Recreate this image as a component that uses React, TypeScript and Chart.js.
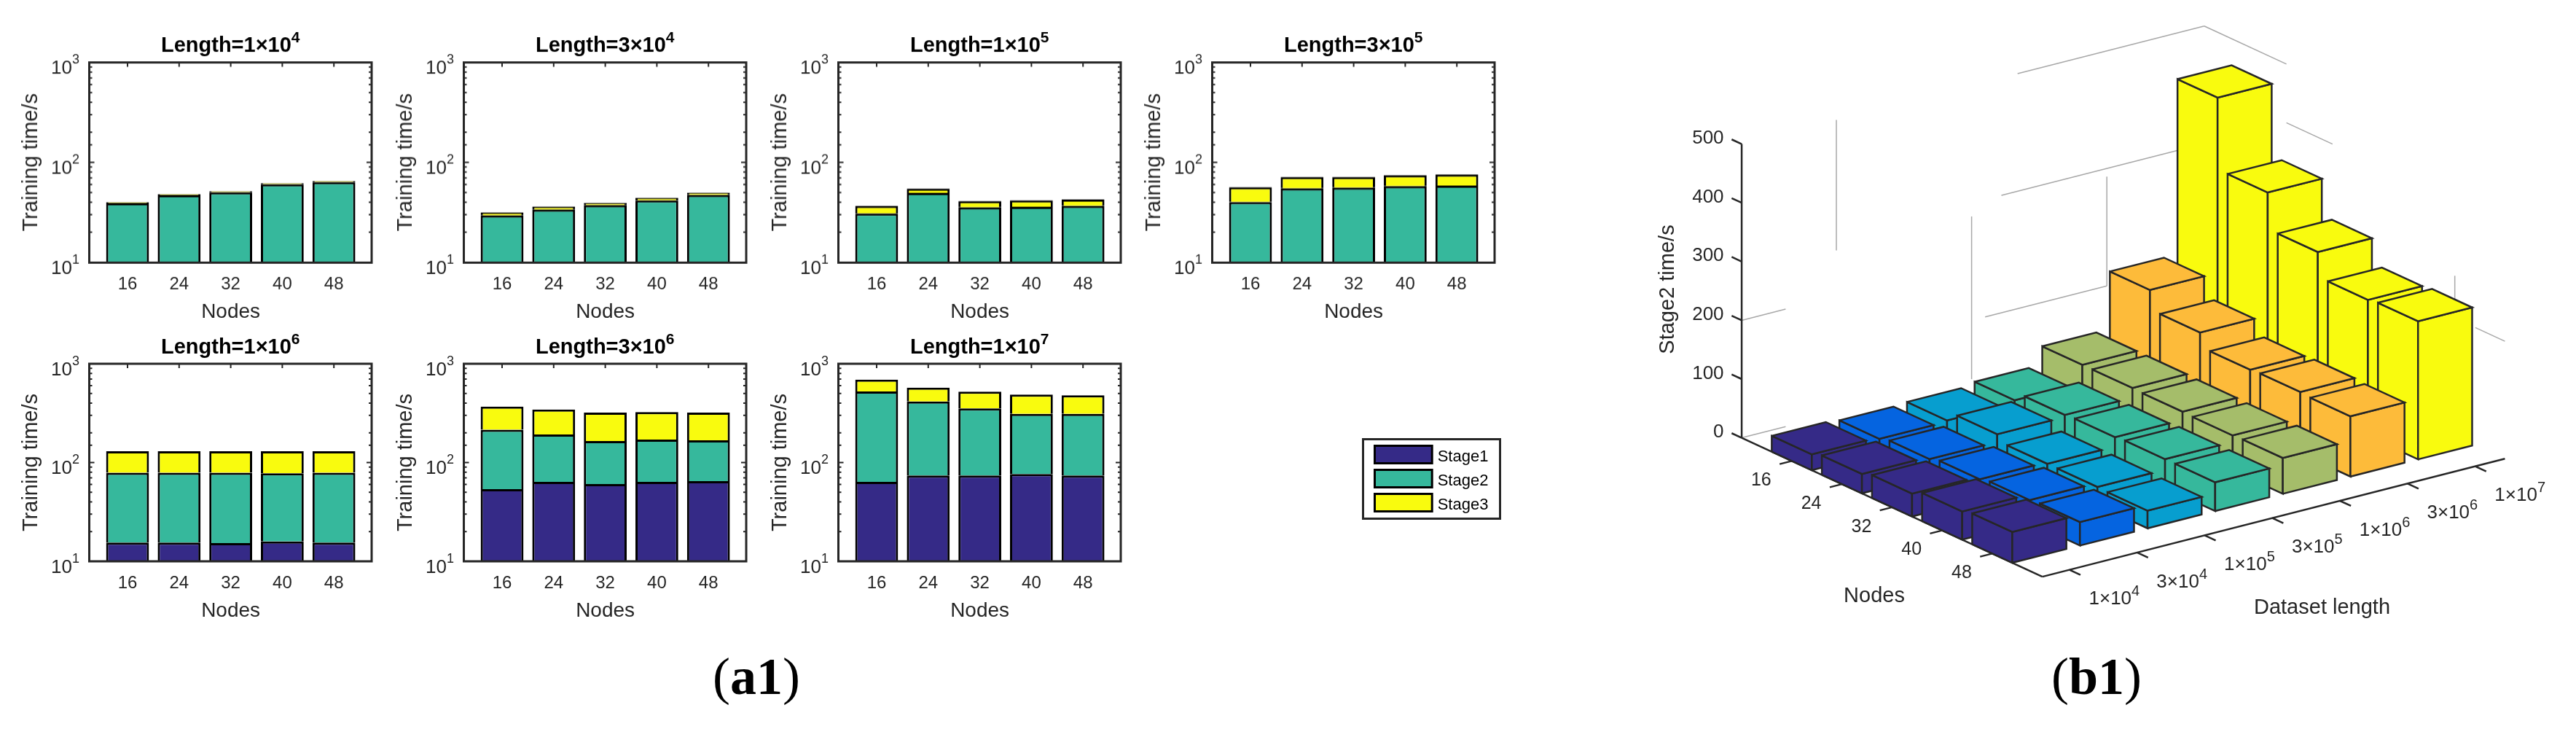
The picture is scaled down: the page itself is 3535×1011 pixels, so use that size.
import React, { useEffect, useRef } from "react";
import { Chart, registerables } from "chart.js";

Chart.register(...registerables);

const nodes = ["16", "24", "32", "40", "48"];
const stageNames = ["Stage1", "Stage2", "Stage3"];
const stageColors = ["#352a87", "#36b89c", "#f9fb0e"];

const lengthMantissas = ["1", "3", "1", "3", "1", "3", "1"];
const lengthExponents = ["4", "4", "5", "5", "6", "6", "7"];

// Training time in seconds per stage; the panels' y axis starts at 10 so small Stage1 runs stay below it.
const s1_1e4 = [9, 9, 9, 9, 9];
const s2_1e4 = [30.1, 38, 41.2, 51.4, 54.5];
const s3_1e4 = [0.8, 1, 1.2, 1.5, 1.5];

const s1_3e4 = [5, 5, 5, 5, 5];
const s2_3e4 = [24.5, 28.8, 32.3, 36.7, 42.3];
const s3_3e4 = [2.0, 2.3, 2.0, 2.5, 2.3];

const s1_1e5 = [5, 5, 5, 5, 5];
const s2_1e5 = [25.8, 44.6, 30.5, 31, 31.7];
const s3_1e5 = [5.9, 5, 5.5, 5.7, 5.8];

const s1_3e5 = [9, 9, 9, 9, 9];
const s2_3e5 = [31.1, 45.9, 46.9, 48.8, 49.7];
const s3_3e5 = [16.4, 16.6, 15.6, 16.6, 16.9];

const s1_1e6 = [15.5, 15.5, 15.3, 15.9, 15.5];
const s2_1e6 = [63.2, 63.2, 63.4, 61.8, 63.2];
const s3_1e6 = [51.4, 51.4, 51.4, 52.4, 51.4];

const s1_3e6 = [53.8, 63.7, 60.6, 63.7, 64.9];
const s2_3e6 = [161.2, 128.3, 104.4, 107.3, 103.1];
const s3_3e6 = [154, 153, 155, 154, 152];

const s1_1e7 = [63.7, 73.9, 73.9, 76.4, 73.9];
const s2_1e7 = [461.3, 341.1, 279.1, 234.6, 237.1];
const s3_1e7 = [167, 159, 169, 176, 168];

const panelStages = [
  [s1_1e4, s2_1e4, s3_1e4],
  [s1_3e4, s2_3e4, s3_3e4],
  [s1_1e5, s2_1e5, s3_1e5],
  [s1_3e5, s2_3e5, s3_3e5],
  [s1_1e6, s2_1e6, s3_1e6],
  [s1_3e6, s2_3e6, s3_3e6],
  [s1_1e7, s2_1e7, s3_1e7],
];

// Stage2 time per node count (rows) and dataset length (columns), for the 3-D panel.
const stage2Nodes16 = [27, 24, 26, 31, 62, 160, 458];
const stage2Nodes24 = [33, 29, 42, 45.5, 62, 127, 336];
const stage2Nodes32 = [39, 34, 31, 47, 61, 103, 274];
const stage2Nodes40 = [48, 38, 31, 49, 60, 104.6, 232];
const stage2Nodes48 = [52.5, 40, 30, 49, 61, 102.6, 235];
const stage2Table = [stage2Nodes16, stage2Nodes24, stage2Nodes32, stage2Nodes40, stage2Nodes48];
const stage2Ticks = [0, 100, 200, 300, 400, 500];
const lengthColors = ["#352a87", "#0564e0", "#079ecf", "#36b89c", "#a5bd6a", "#fdbb3a", "#f9fb0e"];

const INK = "#262626";
const FONT = '"Liberation Sans", Arial, sans-serif';

function drawPower(ctx: any, text: string, sup: string, x: number, baseline: number, font: string, supFont: string, rise: number, align: "left" | "center") {
  ctx.save();
  ctx.textAlign = "left";
  ctx.textBaseline = "alphabetic";
  ctx.font = font;
  const w = ctx.measureText(text).width;
  ctx.font = supFont;
  const sw = ctx.measureText(sup).width;
  const start = align === "center" ? x - (w + sw) / 2 : x;
  ctx.font = font;
  ctx.fillText(text, start, baseline);
  ctx.font = supFont;
  ctx.fillText(sup, start + w, baseline - rise);
  ctx.restore();
}

const COL_X = [0, 514, 1028, 1541];
const ROWS = [
  { canvasTop: 25, axisTop: 85.5, axisBottom: 359.5 },
  { canvasTop: 439, axisTop: 499, axisBottom: 770 },
];
const PANEL_W = 540;
const AXIS_L = 122.5;
const AXIS_R = 510;
const AREA_L = 139.6;
const AREA_R = 493.6;

function Panel({ index }: { index: number }) {
  const ref = useRef<HTMLCanvasElement>(null);
  const row = index < 4 ? 0 : 1;
  const col = index < 4 ? index : index - 4;
  const { canvasTop, axisTop, axisBottom } = ROWS[row];
  const xHeight = 95;
  const height = axisBottom - canvasTop + xHeight;
  useEffect(() => {
    const frame = {
      id: "frame",
      afterDatasetsDraw(chart: any) {
        const { ctx, scales } = chart;
        const top = axisTop - canvasTop;
        const bottom = axisBottom - canvasTop;
        ctx.save();
        ctx.strokeStyle = INK;
        ctx.fillStyle = INK;
        ctx.lineWidth = 3;
        ctx.strokeRect(AXIS_L, top, AXIS_R - AXIS_L, bottom - top);
        ctx.lineWidth = 2;
        for (const t of scales.y.ticks) {
          const y = scales.y.getPixelForValue(t.value);
          const decade = Math.abs(Math.log10(t.value) % 1) < 1e-6;
          const len = decade ? 7 : 4;
          ctx.beginPath();
          ctx.moveTo(AXIS_L, y);
          ctx.lineTo(AXIS_L + len, y);
          ctx.moveTo(AXIS_R, y);
          ctx.lineTo(AXIS_R - len, y);
          ctx.stroke();
          if (decade) {
            const exp = String(Math.round(Math.log10(t.value)));
            drawPower(ctx, "10", exp, 70, y + 15.5, `26px ${FONT}`, `18px ${FONT}`, 14, "left");
          }
        }
        nodes.forEach((_, i) => {
          const x = scales.x.getPixelForValue(i);
          ctx.beginPath();
          ctx.moveTo(x, top);
          ctx.lineTo(x, top + 6);
          ctx.stroke();
        });
        ctx.fillStyle = "#000";
        drawPower(
          ctx,
          `Length=${lengthMantissas[index]}×10`,
          lengthExponents[index],
          (AXIS_L + AXIS_R) / 2,
          top - 14.5,
          `bold 29px ${FONT}`,
          `bold 21px ${FONT}`,
          13,
          "center",
        );
        ctx.restore();
      },
    };
    const stages = panelStages[index];
    const chart = new Chart(ref.current as HTMLCanvasElement, {
      type: "bar",
      data: {
        labels: nodes,
        datasets: stageNames.map((name, s) => ({
          label: name,
          data: stages[s],
          backgroundColor: stageColors[s],
          borderColor: "#000",
          borderWidth: 3,
          categoryPercentage: 1,
          barPercentage: 0.83,
        })),
      },
      options: {
        responsive: false,
        animation: false,
        devicePixelRatio: 1,
        layout: { padding: { top: axisTop - canvasTop, right: PANEL_W - AREA_R, left: 0, bottom: 0 } },
        plugins: { legend: { display: false }, title: { display: false }, tooltip: { enabled: false } },
        scales: {
          x: {
            stacked: true,
            grid: { display: false },
            border: { display: false },
            ticks: { color: INK, font: { family: FONT, size: 24 }, padding: 8, maxRotation: 0 },
            title: { display: true, text: "Nodes", color: INK, font: { family: FONT, size: 28 }, padding: { top: 0, bottom: 10 } },
            afterFit(s: any) {
              s.height = xHeight;
            },
          },
          y: {
            type: "logarithmic",
            stacked: true,
            min: 10,
            max: 1000,
            grid: { display: false },
            border: { display: false },
            ticks: { display: false },
            title: { display: true, text: "Training time/s", color: INK, font: { family: FONT, size: 29 }, padding: { top: 26, bottom: 0 } },
            afterFit(s: any) {
              s.width = AREA_L;
            },
          },
        },
      },
      plugins: [frame],
    } as any);
    return () => chart.destroy();
  }, []);
  return (
    <canvas
      ref={ref}
      width={PANEL_W}
      height={height}
      style={{ position: "absolute", left: COL_X[col], top: canvasTop, width: PANEL_W, height }}
    />
  );
}

function LegendChart() {
  const ref = useRef<HTMLCanvasElement>(null);
  useEffect(() => {
    const BOX_W = 78.7;
    const box = {
      id: "box",
      afterDraw(chart: any) {
        const { ctx, width, height } = chart;
        ctx.save();
        ctx.strokeStyle = INK;
        ctx.lineWidth = 3;
        ctx.strokeRect(1.5, 1.5, width - 3, height - 3);
        ctx.fillStyle = "#000";
        ctx.font = `22px ${FONT}`;
        ctx.textAlign = "left";
        ctx.textBaseline = "alphabetic";
        chart.legend.legendItems.forEach((item: any, i: number) => {
          const hit = chart.legend.legendHitBoxes[i];
          ctx.fillText(item.text, hit.left + BOX_W + 7.5, hit.top + 21.2);
        });
        ctx.restore();
      },
    };
    const chart = new Chart(ref.current as HTMLCanvasElement, {
      type: "bar",
      data: {
        labels: [],
        datasets: stageNames.map((name, s) => ({
          label: name,
          data: [],
          backgroundColor: stageColors[s],
          borderColor: "#000",
          borderWidth: 3,
        })),
      },
      options: {
        responsive: false,
        animation: false,
        devicePixelRatio: 1,
        layout: { padding: { left: 8.5, top: 1.5 } },
        scales: { x: { display: false }, y: { display: false } },
        plugins: {
          tooltip: { enabled: false },
          legend: {
            position: "left",
            align: "start",
            labels: { boxWidth: BOX_W, boxHeight: 24, padding: 9, color: "transparent", font: { family: FONT, size: 22 } },
          },
        },
      },
      plugins: [box],
    } as any);
    return () => chart.destroy();
  }, []);
  return <canvas ref={ref} width={191} height={112} style={{ position: "absolute", left: 1869, top: 601, width: 191, height: 112 }} />;
}

// Oblique projection of the 3-D plot into page pixels.
const ORIGIN = { x: 2802.7, y: 791.1 };
const XD0 = 0.6;
const YN_MAX = 6;
const XD_MAX = 7.44;
const DX = { x: 92.8, y: -23.66 };
const DY = { x: 68.77, y: 31.75 };
const DZ = -0.806;
const HALF = 0.4;

function project(xd: number, yn: number, z: number) {
  const a = xd - XD0;
  const b = yn - YN_MAX;
  return { x: ORIGIN.x + a * DX.x + b * DY.x, y: ORIGIN.y + a * DX.y + b * DY.y + z * DZ };
}

function Bars3D() {
  const ref = useRef<HTMLCanvasElement>(null);
  useEffect(() => {
    const painted: any[] = [];
    const seg = (a: any, b: any, color: string, width: number) =>
      painted.push({ data: [a, b], fill: false, borderColor: color, borderWidth: width, pointRadius: 0, tension: 0 });
    const face = (pts: any[], color: string) =>
      painted.push({
        data: [...pts, pts[0]],
        fill: "shape",
        backgroundColor: color,
        borderColor: INK,
        borderWidth: 2.5,
        borderJoinStyle: "miter",
        pointRadius: 0,
        tension: 0,
      });

    const GRID = "#a8a8a8";
    // Back wall (yn = 0) and right wall (xd = XD_MAX) grid fragments.
    seg(project(4.68, 0, 500), project(XD_MAX, 0, 500), GRID, 1.5);
    seg(project(XD_MAX, 0, 500), project(XD_MAX, 1.64, 500), GRID, 1.5);
    seg(project(XD_MAX, 1.64, 400), project(XD_MAX, 2.56, 400), GRID, 1.5);
    seg(project(4.44, 0, 300), project(7.05, 0, 300), GRID, 1.5);
    seg(project(4.2, 0, 100), project(6, 0, 100), GRID, 1.5);
    seg(project(XD0, 0, 200), project(1.25, 0, 200), GRID, 1.5);
    seg(project(XD0, 0, 0), project(1.25, 0, 0), GRID, 1.5);
    seg(project(XD_MAX, 5.41, 200), project(XD_MAX, 6, 200), GRID, 1.5);
    seg(project(2, 0, 278), project(2, 0, 500), GRID, 1.5);
    seg(project(4, 0, 0), project(4, 0, 277), GRID, 1.5);
    seg(project(6, 0, 100), project(6, 0, 286), GRID, 1.5);
    seg(project(XD_MAX, 5, 222), project(XD_MAX, 5, 272), GRID, 1.5);

    // Axes and ticks.
    seg(project(XD0, 0, 0), project(XD0, 0, 500), INK, 2.5);
    seg(project(XD0, 0, 0), project(XD0, YN_MAX, 0), INK, 2.5);
    seg(project(XD0, YN_MAX, 0), project(XD_MAX, YN_MAX, 0), INK, 2.5);
    stage2Ticks.forEach((z) => seg(project(XD0, 0, z), project(XD0, -0.2, z), INK, 2.5));
    nodes.forEach((_, i) => seg(project(XD0, i + 1, 0), project(XD0 - 0.18, i + 1, 0), INK, 2.5));
    lengthColors.forEach((_, i) => seg(project(i + 1, YN_MAX, 0), project(i + 1, YN_MAX + 0.22, 0), INK, 2.5));

    // Bars, far to near.
    for (let c = lengthColors.length - 1; c >= 0; c--) {
      for (let r = 0; r < stage2Table.length; r++) {
        const xd = c + 1;
        const yn = r + 1;
        const z = stage2Table[r][c];
        const color = lengthColors[c];
        const x0 = xd - HALF;
        const x1 = xd + HALF;
        const y0 = yn - HALF;
        const y1 = yn + HALF;
        face([project(x0, y0, 0), project(x0, y1, 0), project(x0, y1, z), project(x0, y0, z)], color);
        face([project(x0, y1, 0), project(x1, y1, 0), project(x1, y1, z), project(x0, y1, z)], color);
        face([project(x0, y0, z), project(x0, y1, z), project(x1, y1, z), project(x1, y0, z)], color);
      }
    }

    const labels3d = {
      id: "labels3d",
      afterDatasetsDraw(chart: any) {
        const { ctx, scales } = chart;
        const px = (p: any) => ({ x: scales.x.getPixelForValue(p.x), y: scales.y.getPixelForValue(p.y) });
        ctx.save();
        ctx.fillStyle = INK;
        ctx.textBaseline = "alphabetic";
        ctx.font = `26px ${FONT}`;
        ctx.textAlign = "right";
        stage2Ticks.forEach((z) => {
          const p = px(project(XD0, 0, z));
          ctx.fillText(String(z), p.x - 24.5, p.y - 0.5);
        });
        ctx.font = `25px ${FONT}`;
        ctx.textAlign = "center";
        nodes.forEach((n, i) => {
          const p = px(project(XD0, i + 1, 0));
          ctx.fillText(n, p.x - 42, p.y + 33.7);
        });
        lengthMantissas.forEach((m, i) => {
          const p = px(project(i + 1, YN_MAX, 0));
          drawPower(ctx, `${m}×10`, lengthExponents[i], p.x + 26.7, p.y + 47.8, `26px ${FONT}`, `20px ${FONT}`, 12, "left");
        });
        ctx.font = `29px ${FONT}`;
        ctx.textAlign = "center";
        ctx.textBaseline = "middle";
        let p = px({ x: 2572, y: 817.5 });
        ctx.fillText("Nodes", p.x, p.y);
        p = px({ x: 3186.5, y: 834 });
        ctx.fillText("Dataset length", p.x, p.y);
        p = px({ x: 2289, y: 397 });
        ctx.translate(p.x, p.y);
        ctx.rotate(-Math.PI / 2);
        ctx.fillText("Stage2 time/s", 0, 0);
        ctx.restore();
      },
    };

    const chart = new Chart(ref.current as HTMLCanvasElement, {
      type: "line",
      data: { datasets: painted.slice().reverse() },
      options: {
        responsive: false,
        animation: false,
        devicePixelRatio: 1,
        layout: { padding: 0 },
        plugins: { legend: { display: false }, tooltip: { enabled: false } },
        scales: {
          x: { type: "linear", min: 2200, max: 3535, display: false },
          y: { type: "linear", min: 0, max: 1011, reverse: true, display: false },
        },
      },
      plugins: [labels3d],
    } as any);
    return () => chart.destroy();
  }, []);
  return <canvas ref={ref} width={1335} height={1011} style={{ position: "absolute", left: 2200, top: 0, width: 1335, height: 1011 }} />;
}

function Caption({ bold, left }: { bold: string; left: number }) {
  return (
    <div
      style={{
        position: "absolute",
        left,
        top: 892,
        fontFamily: '"Liberation Serif", serif',
        fontSize: 72,
        lineHeight: 1,
        color: "#000",
        whiteSpace: "nowrap",
      }}
    >
      (<b>{bold}</b>)
    </div>
  );
}

export default function App() {
  return (
    <div style={{ position: "absolute", left: 0, top: 0, width: 3535, height: 1011, background: "#fff", overflow: "hidden" }}>
      {panelStages.map((_, i) => (
        <Panel key={i} index={i} />
      ))}
      <LegendChart />
      <Bars3D />
      <Caption bold="a1" left={978} />
      <Caption bold="b1" left={2815} />
    </div>
  );
}
